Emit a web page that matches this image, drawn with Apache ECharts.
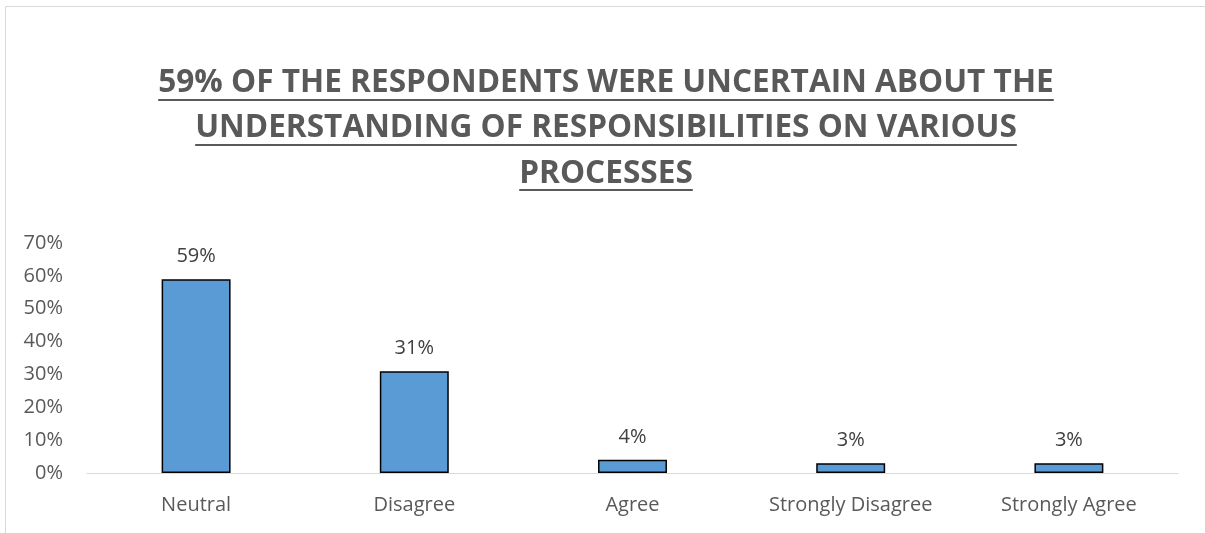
<!DOCTYPE html>
<html>
<head>
<meta charset="utf-8">
<script src="https://cdn.jsdelivr.net/npm/echarts@6/dist/echarts.min.js"></script>
<style>
  html, body { margin: 0; padding: 0; background: #fff; }
  #chart { width: 1205px; height: 533px; }
</style>
</head>
<body>
<div id="chart"></div>
<script>
// Survey responses, share of respondents per answer
const categories = ['Neutral', 'Disagree', 'Agree', 'Strongly Disagree', 'Strongly Agree'];
const shares = [59, 31, 4, 3, 3];
const titleLines = [
  '59% OF THE RESPONDENTS WERE UNCERTAIN ABOUT THE',
  'UNDERSTANDING OF RESPONSIBILITIES ON VARIOUS',
  'PROCESSES'
];

const FONT = '"Open Sans", "Noto Sans", sans-serif';
const titleFont = { size: 31.6, weight: 'bold', color: '#595959' };
const titleCenterX = 606;
const titleCapMid = [83, 128, 174];
const underlineY = [99, 144, 189];

// measure title lines so the underline spans each line exactly
const measureCtx = document.createElement('canvas').getContext('2d');
measureCtx.font = titleFont.weight + ' ' + titleFont.size + 'px ' + FONT;

const titleGraphics = [];
titleLines.forEach((line, i) => {
  const w = measureCtx.measureText(line).width;
  titleGraphics.push({
    type: 'text',
    x: titleCenterX,
    y: titleCapMid[i],
    style: {
      text: line,
      fill: titleFont.color,
      fontSize: titleFont.size,
      fontWeight: titleFont.weight,
      fontFamily: FONT,
      align: 'center',
      verticalAlign: 'middle'
    }
  });
  titleGraphics.push({
    type: 'rect',
    shape: { x: titleCenterX - w / 2, y: underlineY[i], width: w, height: 2 },
    style: { fill: titleFont.color }
  });
});

const chart = echarts.init(document.getElementById('chart'), null, { renderer: 'canvas' });
chart.setOption({
  animation: false,
  backgroundColor: '#ffffff',
  graphic: [
    // chart frame: top and left edges
    {
      type: 'line',
      shape: { x1: 5.5, y1: 6.5, x2: 1205, y2: 6.5 },
      style: { stroke: '#d9d9d9', lineWidth: 1 },
      silent: true
    },
    {
      type: 'line',
      shape: { x1: 5.5, y1: 6.5, x2: 5.5, y2: 533 },
      style: { stroke: '#d9d9d9', lineWidth: 1 },
      silent: true
    }
  ].concat(titleGraphics),
  grid: { left: 87, right: 27, top: 243, bottom: 60, containLabel: false },
  xAxis: {
    type: 'category',
    data: categories,
    axisTick: { show: false },
    axisLine: { show: true, lineStyle: { color: '#d9d9d9', width: 1 } },
    axisLabel: { color: '#595959', fontSize: 20, fontFamily: FONT, margin: 22 }
  },
  yAxis: {
    type: 'value',
    min: 0,
    max: 70,
    interval: 10,
    splitLine: { show: false },
    axisLine: { show: false },
    axisTick: { show: false },
    axisLabel: { color: '#595959', fontSize: 20, fontFamily: FONT, margin: 24, formatter: '{value}%' }
  },
  series: [{
    type: 'bar',
    data: shares,
    barWidth: '31.6%',
    itemStyle: { color: '#5b9bd5', borderColor: '#000000', borderWidth: 1.5 },
    label: {
      show: true,
      position: 'top',
      distance: 13,
      color: '#404040',
      fontSize: 20,
      fontFamily: FONT,
      formatter: '{c}%'
    }
  }]
});
</script>
</body>
</html>
